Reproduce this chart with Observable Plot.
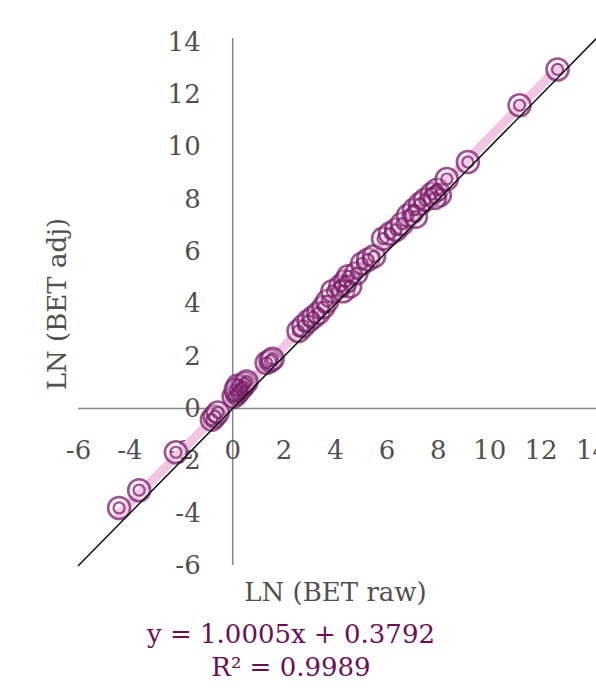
<!DOCTYPE html>
<html>
<head>
<meta charset="utf-8">
<script src="https://cdn.jsdelivr.net/npm/d3@7"></script>
<script src="https://cdn.jsdelivr.net/npm/@observablehq/plot@0.6"></script>
<style>
  html, body { margin: 0; padding: 0; background: #fff; overflow: hidden; }
  #chart { width: 596px; }
  #eq {
    width: 582px; text-align: center; font-family: "DejaVu Serif", serif;
    font-size: 26px; line-height: 33px; color: #6b0f55; margin-top: 8px;
  }
</style>
</head>
<body>
<div id="chart"></div>
<div id="eq"></div>
<script>
// LN (BET raw) values
const xRaw = [-4.42, -3.64, -2.21, -0.81, -0.70, -0.58,
  0.04, 0.16, 0.23, 0.31, 0.39, 0.47, 0.19, 0.54, 0.12,
  1.32, 1.47, 1.55,
  2.56, 2.75, 2.95, 3.14, 3.33, 3.53, 3.68, 3.88, 4.19, 4.38, 4.50, 4.30, 4.57, 4.81, 5.04, 5.27, 5.50,
  5.85, 6.12, 6.36, 6.59, 6.82, 7.05, 7.29, 7.13, 7.48, 7.75, 7.95, 8.06, 7.87, 8.33,
  9.15, 11.16, 12.64];
// LN (BET adj) values
const yAdj = [-3.80, -3.12, -1.67, -0.42, -0.30, -0.15,
  0.46, 0.57, 0.68, 0.76, 0.84, 0.95, 0.87, 1.03, 0.72,
  1.75, 1.83, 1.90,
  2.97, 3.16, 3.35, 3.50, 3.65, 3.88, 4.11, 4.49, 4.68, 4.87, 5.06, 4.49, 4.68, 5.17, 5.55, 5.70, 5.82,
  6.50, 6.69, 6.84, 7.07, 7.38, 7.60, 7.83, 7.34, 7.98, 8.21, 8.37, 8.17, 8.06, 8.78,
  9.43, 11.60, 12.97];

const xTicks = [-6, -4, -2, 0, 2, 4, 6, 8, 10, 12, 14];
const yTicks = [-6, -4, -2, 0, 2, 4, 6, 8, 10, 12, 14];

// Linear trend line (as displayed)
const slope = 1.0005;
const intercept = 0.3792;
const r2 = 0.9989;

const xTitle = "LN (BET raw)";
const yTitle = "LN (BET adj)";

const points = xRaw.map((x, i) => ({x, y: yAdj[i]}));
const xMin = d3.min(xRaw), xMax = d3.max(xRaw);
const trend = [xMin, xMax].map(x => ({x, y: slope * x + intercept}));
const identity = [-6, 14.2].map(v => ({x: v, y: v}));

const ringColor = "#7a1f6a";

const chart = Plot.plot({
  width: 596,
  height: 610,
  marginLeft: 78,
  marginRight: 4,
  marginTop: 42,
  marginBottom: 45,
  x: {domain: [-6, 14], axis: null},
  y: {domain: [-6, 14], axis: null},
  style: {fontFamily: "DejaVu Serif, serif", fontSize: "26px", color: "#505050", background: "white", overflow: "visible"},
  marks: [
    Plot.ruleY([0], {x1: -6, x2: 14.3, stroke: "#878787", strokeWidth: 1.5}),
    Plot.ruleX([0], {y1: -6, y2: 14.15, stroke: "#878787", strokeWidth: 1.5}),
    Plot.text(xTicks, {x: d => d, y: 0, dy: 42, text: d => String(d), fill: "#505050"}),
    Plot.text(yTicks, {x: 0, y: d => d, dx: -32, textAnchor: "end", text: d => String(d), fill: "#505050"}),
    Plot.line(trend, {x: "x", y: "y", stroke: "#f2c6e2", strokeWidth: 9}),
    Plot.dot(points, {x: "x", y: "y", r: 11, stroke: ringColor, strokeOpacity: 0.75, strokeWidth: 2.6, fill: "#f6d6ea", fillOpacity: 0.35}),
    Plot.dot(points, {x: "x", y: "y", r: 5.5, stroke: ringColor, strokeOpacity: 0.75, strokeWidth: 2.2, fill: "none"}),
    Plot.line(identity, {x: "x", y: "y", stroke: "#111", strokeWidth: 1.5}),
    Plot.text([xTitle], {frameAnchor: "bottom", dy: 35, text: d => d, fill: "#505050"}),
    Plot.text([yTitle], {frameAnchor: "left", dx: -21, rotate: -90, textAnchor: "middle", text: d => d, fill: "#505050"})
  ]
});
document.getElementById("chart").appendChild(chart);

const eq = document.getElementById("eq");
const sign = intercept >= 0 ? "+" : "−";
eq.innerHTML = `y = ${slope.toFixed(4)}x ${sign} ${Math.abs(intercept).toFixed(4)}<br>R² = ${r2.toFixed(4)}`;
</script>
</body>
</html>
